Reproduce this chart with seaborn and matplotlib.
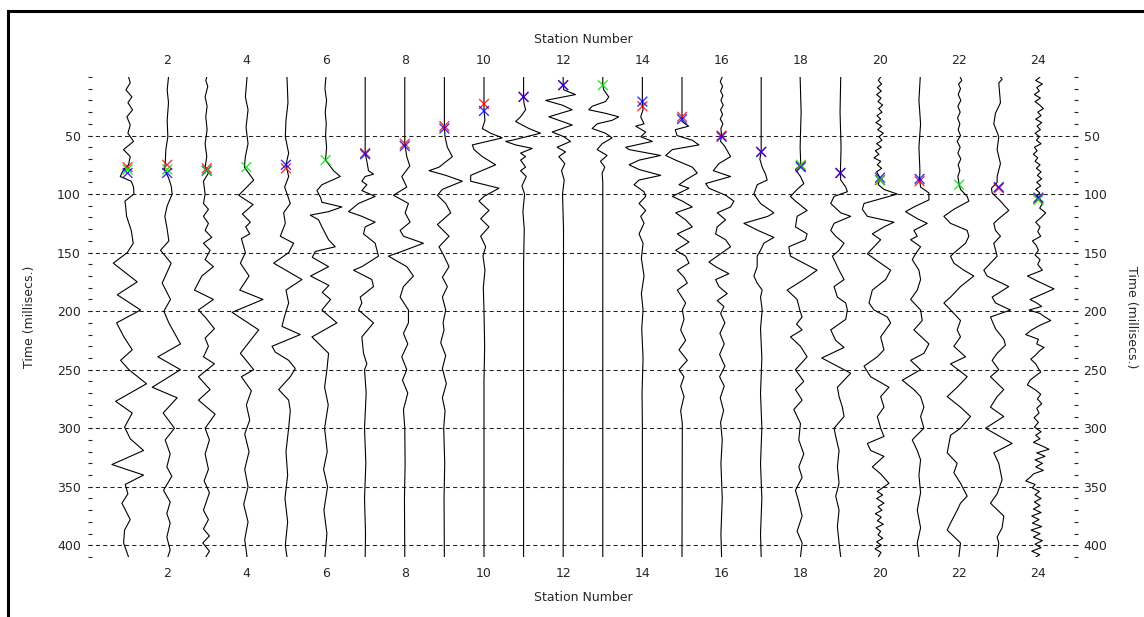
import numpy as np
import pandas as pd
import matplotlib
matplotlib.use("Agg")
import matplotlib.pyplot as plt
from matplotlib.ticker import MultipleLocator
from matplotlib.patches import Rectangle
import seaborn as sns

# Station numbers and first-break picks (ms); nan = no pick of that colour
stations = list(range(1, 25))
pick_red = [77, 75, 78, np.nan, 78, np.nan, 65, 57, 42, 23, 17, 7,
            np.nan, 25, 34, 50, 64, 76, 82, 88, 89, np.nan, 95, 104]
pick_blue = [82, 82, 80, np.nan, 75, np.nan, 66, 59, 44, 29, 17, 7,
             np.nan, 21, 36, 51, 64, 77, 82, 86, 87, np.nan, 94, 103]
pick_green = [79, 79, 80, 77, np.nan, 71, np.nan, np.nan, np.nan, np.nan, np.nan, np.nan,
              7, np.nan, np.nan, np.nan, np.nan, 75, np.nan, 88, np.nan, 92, np.nan, 105]

# Traces: (time ms, relative amplitude)
tr01 = [(0, 3), (5, 8), (11, -5), (17, 13), (22, 1), (28, 15), (34, -2), (41, 8), (48, 1), (55, 18),
        (62, -12), (68, 8), (75, 3), (79, -12), (85, -22), (89, 11), (94, 18), (100, 19), (106, -8),
        (110, -6), (119, -3), (131, 11), (142, 17), (150, -1), (159, -43), (175, 29), (186, -31),
        (199, 39), (210, -33), (222, -11), (233, 14), (242, -21), (250, 4), (262, 57), (277, -36),
        (287, 14), (299, -9), (309, 8), (319, 48), (331, -47), (340, 48), (348, -7), (356, 1),
        (364, -17), (378, 8), (387, -9), (398, -12), (410, 3)]
tr02 = [(0, 4), (11, 0), (22, 4), (37, 0), (51, 2), (62, -4), (74, -6), (79, -8), (86, 4), (93, 12),
        (100, 15), (110, 0), (119, -7), (130, 0), (140, 5), (148, -20), (159, 12), (176, -15),
        (190, 10), (200, -10), (210, 5), (228, 40), (239, -28), (250, 40), (265, -45), (274, 30),
        (287, -12), (300, 22), (310, -6), (322, 9), (333, -1), (341, 14), (353, -11), (363, 9),
        (373, -1), (381, 9), (393, -1), (404, 9), (410, 2)]
tr03 = [(0, 0), (3, -3), (8, 3), (17, -5), (25, 1), (34, -3), (45, 1), (57, -5), (68, 0), (77, -5),
        (82, 5), (89, -10), (100, -5), (108, -10), (113, 5), (119, -10), (125, 5), (131, -5),
        (137, 15), (142, -10), (148, 10), (156, -5), (162, 20), (170, -15), (182, -37), (190, 20),
        (199, -25), (205, -5), (215, 23), (223, -5), (230, 5), (239, -10), (245, 23), (256, -25),
        (267, 10), (276, -25), (288, 25), (300, -5), (310, 8), (322, -5), (335, 5), (345, -8),
        (355, 8), (370, -10), (378, 5), (386, -10), (392, 8), (398, -12), (405, 8), (410, -3)]
tr04 = [(0, 2), (17, -3), (28, 5), (43, -1), (57, 5), (68, -3), (77, -6), (88, 22), (101, -23),
        (109, 20), (117, -12), (124, 12), (128, -2), (134, 10), (138, -15), (150, -3), (159, -18),
        (170, 8), (182, -20), (190, 50), (201, -43), (216, 37), (236, -18), (250, 22), (256, -15),
        (268, 15), (280, 0), (293, 10), (305, -5), (320, 8), (335, -5), (350, 5), (365, -8),
        (380, 5), (395, -5), (410, 2)]
tr05 = [(0, 3), (22, 6), (37, 0), (51, -2), (65, 8), (75, 0), (85, 8), (94, -4), (108, 13),
        (116, -7), (125, -2), (136, -17), (142, 23), (150, 8), (159, -37), (173, 48), (182, 0),
        (193, 8), (205, -5), (213, -12), (220, 43), (230, -42), (235, -32), (242, 8), (249, 28),
        (256, 13), (267, -22), (276, 8), (285, 13), (300, 8), (320, 0), (340, 5), (360, -3),
        (380, 5), (400, -2), (410, 3)]
tr06 = [(0, 1), (10, -2), (20, 3), (30, -1), (40, 2), (50, 0), (60, 3), (71, 0), (80, 24), (85, 44),
        (92, -11), (97, -26), (103, -15), (107, -11), (111, 49), (115, 9), (118, -46), (122, -21),
        (128, -11), (139, 9), (145, 29), (149, -31), (154, -40), (162, 9), (170, -45), (178, 10),
        (184, -10), (190, 15), (199, -11), (210, 34), (222, -41), (236, 9), (250, 4), (265, -3),
        (280, 8), (300, -3), (320, 5), (335, -6), (350, 6), (370, -5), (390, 4), (410, -2)]
tr07 = [(0, 0), (65, 0), (72, 5), (80, 10), (83, 25), (85, 0), (89, -10), (92, 5), (97, -10),
        (102, 30), (108, -20), (115, -50), (119, -10), (124, 30), (128, 0), (134, -5), (142, 30),
        (153, 40), (162, -10), (165, -35), (173, 20), (179, 25), (188, -15), (193, -10), (199, -20),
        (210, 25), (222, -10), (236, -5), (245, 5), (250, -2), (270, 3), (300, -2), (330, 2),
        (360, -2), (390, 1), (410, 0)]
tr08 = [(0, 0), (50, 0), (57, 0), (68, 6), (76, 15), (85, -9), (94, 6), (101, -34), (108, 11),
        (116, 1), (124, 16), (131, -14), (136, -4), (142, 56), (149, -9), (153, -49), (162, 6),
        (170, 26), (179, -4), (188, -14), (199, 11), (210, 11), (219, -4), (228, 9), (239, -9),
        (250, 6), (259, -7), (270, 9), (284, -4), (300, 0), (330, 1), (360, -1), (410, 0)]
tr09 = [(0, 0), (43, 0), (51, 2), (60, 9), (68, 24), (77, -16), (80, -46), (84, 4), (89, 54),
        (96, -6), (101, -21), (108, 4), (116, 19), (126, -21), (136, 14), (145, -16), (153, -1),
        (162, 14), (171, -6), (179, 9), (188, -6), (199, 4), (210, -4), (216, -1), (227, -11),
        (238, 4), (249, -6), (262, 6), (274, -6), (285, 2), (300, -2), (330, 1), (360, -1), (410, 0)]
tr10 = [(0, 0), (28, 0), (37, 3), (44, -5), (48, 20), (52, 55), (58, -35), (62, -30), (68, -5),
        (75, 35), (84, -40), (89, -40), (95, 45), (102, 0), (106, -15), (114, 15), (121, -10),
        (128, 15), (136, -10), (145, 5), (153, -3), (165, 3), (180, -2), (199, 0), (230, 2),
        (260, 0), (410, 0)]
tr11 = [(0, 0), (17, 0), (22, 1), (28, 6), (34, -9), (38, -24), (44, 16), (48, 51), (54, -34),
        (55, -54), (58, -24), (61, 26), (65, -9), (68, 6), (71, -9), (77, 6), (80, -9), (85, 8),
        (93, -5), (100, 3), (115, -2), (130, 2), (160, 0), (410, 0)]
tr12 = [(0, 0), (7, 0), (11, 2), (15, 37), (20, -53), (24, -3), (28, 27), (34, -43), (37, -13),
        (41, 27), (47, -33), (51, 2), (55, 22), (60, -18), (64, 7), (68, -13), (74, 5), (80, -5),
        (88, 3), (100, -2), (130, 1), (410, 0)]
tr13 = [(0, 0), (7, 0), (11, 3), (17, 18), (21, 8), (25, -32), (28, -42), (31, 8), (34, 48),
        (37, 28), (40, -17), (44, -32), (48, 8), (52, 28), (57, -2), (62, -17), (67, 13), (72, -7),
        (77, 6), (82, -2), (90, 0), (410, 0)]
tr14 = [(0, 0), (22, 0), (28, 2), (34, -5), (40, 5), (42, -20), (47, 10), (51, -5), (55, 30),
        (60, -50), (62, -40), (67, 55), (71, -10), (75, -40), (79, -10), (84, 55), (88, -10),
        (92, -25), (98, 5), (102, 10), (108, -10), (114, 10), (119, -5), (125, 5), (134, -10),
        (142, 2), (155, -3), (170, 5), (185, -3), (199, 2), (215, -2), (240, 2), (270, -1),
        (300, 0), (410, 0)]
tr15 = [(0, 0), (34, 0), (38, 0), (42, 20), (45, -20), (50, -15), (54, 31), (58, 51), (62, -29),
        (67, -49), (71, -19), (77, 31), (82, 46), (88, 11), (92, -9), (95, 21), (102, -29),
        (106, 1), (111, 31), (116, -19), (122, 11), (128, 31), (134, -14), (141, 21), (148, -19),
        (153, 11), (159, 21), (165, -14), (171, 6), (176, 16), (182, -14), (193, 11), (199, 1),
        (207, 6), (216, -4), (225, 11), (233, -9), (242, 16), (250, -9), (256, 6), (264, -4),
        (273, 6), (285, -4), (296, 1), (410, 0)]
tr16 = [(0, 2), (4, -4), (8, 3), (12, -3), (16, 4), (20, -2), (24, 5), (28, -3), (32, 3), (36, -4),
        (40, 4), (44, -2), (50, 0), (55, -3), (59, 9), (68, 27), (74, -8), (80, -25), (85, 27),
        (91, -48), (95, -38), (101, 12), (106, 37), (111, 27), (116, -13), (122, 12), (128, -13),
        (134, -18), (139, 12), (145, 27), (151, -3), (158, -38), (162, -18), (168, 22), (173, -18),
        (179, -8), (185, 17), (191, -13), (196, 7), (202, -3), (210, 10), (219, -5), (228, 8),
        (237, -6), (247, 10), (256, -6), (264, 8), (274, -4), (285, 6), (295, -3), (310, 2),
        (330, -2), (360, 2), (390, -2), (410, 0)]
tr17 = [(0, 0), (64, 0), (70, -4), (77, 3), (83, 13), (88, 18), (92, -12), (100, -22), (108, -2),
        (116, 38), (119, 20), (125, -52), (131, -10), (137, 38), (142, 8), (148, -2), (153, -12),
        (162, -12), (170, -22), (176, -12), (182, 3), (188, -2), (199, 3), (215, -2), (240, 2),
        (270, -2), (300, 2), (330, -2), (360, 2), (390, -2), (410, 0)]
tr18 = [(0, -2), (30, 1), (60, -2), (75, 0), (79, -16), (85, -1), (91, 9), (96, -11), (102, -31),
        (106, -16), (114, 19), (119, -11), (128, -16), (134, 19), (139, 14), (145, -36), (153, -31),
        (159, 9), (165, 49), (173, 9), (182, -41), (190, -11), (199, -3), (205, 4), (211, -13),
        (216, 4), (222, -31), (230, -1), (239, 19), (250, -16), (260, 9), (267, -16), (276, 4),
        (284, -21), (296, -1), (310, -6), (322, 9), (333, -6), (342, 4), (353, -16), (363, -6),
        (375, 4), (388, -11), (398, 4), (410, -1)]
tr19 = [(0, 1), (30, -1), (60, 2), (82, 0), (88, 1), (94, 16), (98, 21), (102, -19), (108, -29),
        (116, 1), (119, 31), (125, -19), (131, -29), (136, -14), (142, 11), (148, -4), (153, -24),
        (159, -14), (165, -4), (173, 11), (179, -19), (188, -9), (193, 16), (199, 21), (207, 16),
        (216, -29), (225, -14), (231, 11), (240, -56), (253, 31), (256, 21), (265, -9), (273, -4),
        (282, 6), (290, 11), (300, -19), (307, -14), (319, -4), (333, -9), (347, -4), (358, -14),
        (370, -4), (384, -9), (398, -4), (410, 1)]
tr20 = [(0, 2), (3, -5), (6, 5), (9, -8), (12, 4), (15, -10), (18, 3), (21, -6), (24, 8), (27, -4),
        (30, 6), (33, -9), (36, 2), (39, -12), (42, 5), (45, -7), (48, 10), (51, -3), (54, 6),
        (57, -10), (60, 4), (63, -14), (66, -3), (69, -18), (72, 2), (75, -8), (78, 5), (81, -10),
        (84, -4), (86, 0), (92, -5), (96, 12), (100, 52), (104, 2), (108, -48), (113, -53),
        (119, -38), (124, 42), (128, 12), (134, -23), (139, 2), (145, -18), (151, -38), (159, 2),
        (165, 32), (173, 17), (182, -23), (193, -33), (199, -18), (205, 22), (210, 32), (222, 2),
        (233, 12), (239, -8), (247, -48), (256, -28), (265, 27), (273, 2), (282, 12), (290, -8),
        (300, 2), (307, 12), (313, -38), (319, -28), (324, 12), (333, -23), (339, 2), (347, 27),
        (354, -8), (357, 8), (360, -10), (364, 12), (367, -6), (370, 6), (373, -14), (376, 4),
        (379, -8), (382, 10), (385, -12), (388, 2), (391, -6), (394, 8), (397, -10), (400, 4),
        (403, -15), (406, 3), (410, -5)]
tr21 = [(0, 2), (20, -2), (40, 3), (60, -2), (80, 1), (88, 0), (94, 3), (99, 28), (105, 28),
        (111, -17), (115, -42), (121, -7), (125, 23), (131, -17), (136, -7), (139, -27), (145, 3),
        (151, -12), (156, -22), (165, -2), (173, 3), (182, -7), (190, -27), (199, 3), (208, 8),
        (216, -17), (228, 28), (236, 13), (242, -27), (250, 3), (259, -52), (267, -17), (273, 3),
        (282, 13), (290, 3), (300, 13), (307, -12), (310, -22), (319, -7), (327, 3), (340, -2),
        (355, 3), (370, -7), (385, 3), (398, -7), (410, -2)]
tr22 = [(0, 3), (3, 8), (6, -2), (10, 4), (15, -3), (20, 5), (25, -4), (30, 3), (35, -5), (40, 2),
        (45, -3), (50, 4), (55, -6), (60, 3), (65, -4), (70, 5), (75, -3), (80, 2), (85, -4),
        (92, 0), (96, 4), (102, 24), (106, 29), (113, -16), (119, -46), (125, -26), (131, 24),
        (136, 29), (142, 19), (148, -6), (153, -26), (159, -16), (165, 14), (170, 44), (179, 4),
        (188, -26), (193, -46), (199, -26), (208, 4), (216, -6), (222, 4), (230, -16), (239, 19),
        (245, -26), (256, 24), (265, -6), (273, -36), (282, 4), (290, 34), (300, 4), (306, -26),
        (321, -36), (330, -6), (338, -16), (347, 4), (358, 24), (364, 4), (370, -6), (381, -26),
        (387, -36), (398, 4), (410, -1)]
tr23 = [(0, 5), (2, 10), (5, 0), (12, 2), (22, 5), (31, -10), (40, -15), (51, 0), (62, -5),
        (74, 5), (85, -5), (90, -5), (95, -22), (99, -20), (106, 5), (114, 30), (121, 0),
        (125, -15), (131, -10), (136, 5), (142, -15), (153, -5), (165, -45), (170, -35), (179, 30),
        (188, -20), (193, -10), (199, 35), (205, -25), (215, -10), (224, 15), (229, 20), (236, -5),
        (242, -20), (250, 0), (256, -25), (267, 15), (273, -5), (282, -25), (290, 15), (300, -40),
        (313, 40), (321, -15), (330, 0), (344, 10), (356, -5), (364, -25), (375, 15), (385, 10),
        (393, -5), (398, 0), (410, -5)]
tr24 = [(0, 5), (3, -8), (6, 12), (9, -5), (12, 3), (15, -12), (18, 6), (21, -10), (24, 4), (27, 15),
        (30, -2), (33, 8), (36, -8), (39, 10), (42, -4), (45, 6), (48, -10), (51, 3), (54, -6),
        (57, 8), (60, -12), (63, -4), (66, -15), (69, -2), (72, -10), (75, 5), (78, -6), (81, 8),
        (84, -3), (87, 10), (90, -5), (93, 7), (96, -8), (99, 4), (102, -4), (104, 0), (108, 12),
        (112, 4), (116, 22), (120, 8), (124, -8), (128, 5), (132, -2), (136, 7), (140, -18),
        (144, -6), (148, 0), (152, -10), (156, 5), (160, -2), (165, 12), (170, -33), (175, 2),
        (181, 47), (186, 7), (190, -25), (193, -5), (196, 10), (199, -28), (202, 5), (205, 20),
        (208, 37), (212, 5), (216, -20), (220, -38), (224, 0), (228, -5), (231, 17), (234, 3),
        (238, -10), (241, -23), (245, -8), (249, 0), (252, 7), (256, -12), (259, -25), (263, -33),
        (267, -10), (271, 7), (275, -3), (279, 10), (283, -5), (287, 2), (291, -13), (295, 0),
        (299, -12), (303, 8), (306, -8), (309, 5), (312, -15), (315, 10), (318, 32), (321, -5),
        (324, 20), (327, -10), (330, 12), (333, -8), (336, 15), (339, -15), (342, -25), (345, -38),
        (348, -10), (351, -18), (354, 3), (357, -10), (360, 8), (363, -12), (366, 5), (369, -15),
        (372, 8), (375, -20), (378, 2), (381, -18), (384, 10), (387, -22), (390, 5), (393, -15),
        (396, 12), (399, -10), (402, 8), (405, -20), (408, 4), (410, -8)]

traces = [tr01, tr02, tr03, tr04, tr05, tr06, tr07, tr08, tr09, tr10, tr11, tr12,
          tr13, tr14, tr15, tr16, tr17, tr18, tr19, tr20, tr21, tr22, tr23, tr24]
gain = 1 / 119  # display gain: amplitude -> station spacing

rows = []
for st, tr in zip(stations, traces):
    for t, a in tr:
        rows.append((st, t, st + gain * a))
df = pd.DataFrame(rows, columns=["station", "time", "x"])

picks = pd.concat([
    pd.DataFrame({"station": stations, "time": pick_red, "kind": "red"}),
    pd.DataFrame({"station": stations, "time": pick_blue, "kind": "blue"}),
    pd.DataFrame({"station": stations, "time": pick_green, "kind": "green"}),
]).dropna()

sns.set_style("white")
plt.rcParams["font.family"] = ["DejaVu Sans"]
plt.rcParams["font.size"] = 9

fig = plt.figure(figsize=(11.44, 6.17), dpi=100)
ax = fig.add_axes([0.0769, 0.0972, 0.8654, 0.778])

for v in range(50, 401, 50):
    ax.axhline(v, color="#222222", lw=0.75, ls=(0, (4, 3)), zorder=1)

sns.lineplot(data=df, x="x", y="time", units="station", estimator=None, sort=False,
             color="black", lw=0.8, ax=ax, zorder=2)
sns.scatterplot(data=picks, x="station", y="time", hue="kind",
                palette={"red": "#ff0000", "blue": "#0000ff", "green": "#00e000"},
                marker="x", s=50, linewidth=1.0, alpha=0.8, legend=False, ax=ax, zorder=3)

ax.set_xlim(0, 25)
ax.set_ylim(410, 0)
for sp in ax.spines.values():
    sp.set_visible(False)

ax.set_xticks(range(2, 25, 2))
ax.tick_params(axis="x", length=0, pad=7)
ax.set_xlabel("Station Number", labelpad=8)
ax.set_yticks(range(50, 401, 50))
ax.yaxis.set_minor_locator(MultipleLocator(10))
ax.tick_params(axis="y", which="both", direction="in", length=3, width=0.8, pad=5, left=True)
ax.set_ylabel("Time (millisecs.)", labelpad=15)

secx = ax.secondary_xaxis("top")
secx.set_xticks(range(2, 25, 2))
secx.tick_params(length=0, pad=7)
secx.set_xlabel("Station Number", labelpad=8)
secy = ax.secondary_yaxis("right")
secy.set_yticks(range(50, 401, 50))
secy.yaxis.set_minor_locator(MultipleLocator(10))
secy.tick_params(which="both", direction="in", length=3, width=0.8, pad=4)
secy.set_ylabel("Time (millisecs.)", rotation=270, labelpad=22)
for sa in (secx, secy):
    for sp in sa.spines.values():
        sp.set_visible(False)

# window frame (top and left edges visible)
fig.add_artist(Rectangle((7.5 / 1144, -0.5), 2.0, 1.5 - 10.5 / 617, transform=fig.transFigure,
                         fill=False, edgecolor="black", lw=2.2, clip_on=False))

fig.savefig("out.png", dpi=100)
